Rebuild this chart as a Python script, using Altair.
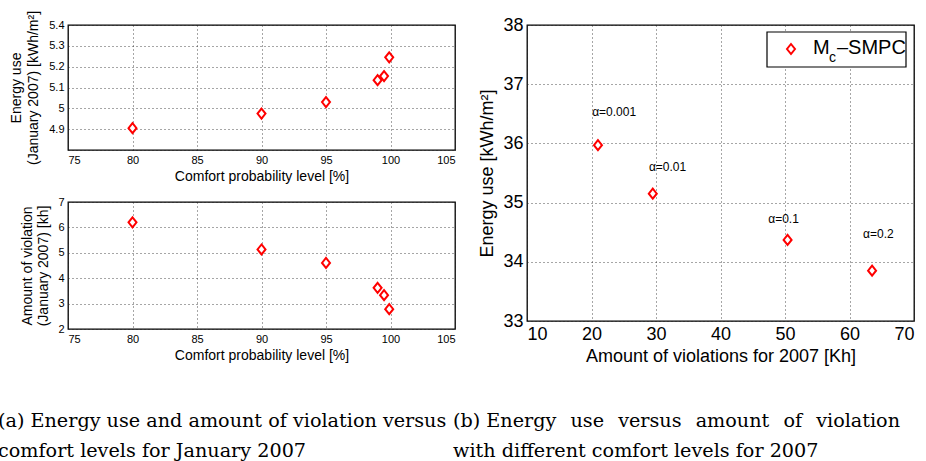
import altair as alt
import pandas as pd

# ---------------- data ----------------
comfort_levels = [80, 90, 95, 99, 99.5, 99.9]
energy_january = [4.905, 4.975, 5.03, 5.135, 5.155, 5.245]
violation_january = [6.2, 5.13, 4.6, 3.62, 3.33, 2.78]

violations_2007 = [21.0, 29.5, 50.4, 63.5]
energy_2007 = [35.97, 35.15, 34.37, 33.85]
alpha_labels = ["α=0.001", "α=0.01", "α=0.1", "α=0.2"]
alpha_label_x = [20.1, 28.9, 47.4, 62.1]
alpha_label_y = [36.53, 35.6, 34.72, 34.47]

x_ticks_left = [75, 80, 85, 90, 95, 100, 105]
y_ticks_energy = [4.8, 4.9, 5.0, 5.1, 5.2, 5.3, 5.4]
y_ticks_violation = [2, 3, 4, 5, 6, 7]
x_ticks_right = [10, 20, 30, 40, 50, 60, 70]
y_ticks_right = [33, 34, 35, 36, 37, 38]

legend_parts = ["M", "c", "–SMPC"]

GAP = "\u00a0\u00a0\u200a"
caption_a = ["(a) Energy use and amount of violation versus",
             "comfort levels for January 2007"]
caption_b = [f"(b) Energy{GAP}use{GAP}versus{GAP}amount{GAP}of{GAP}violation",
             "with different comfort levels for 2007"]

df_jan = pd.DataFrame({"comfort": comfort_levels,
                       "energy": energy_january,
                       "violation": violation_january})
df_year = pd.DataFrame({"viol": violations_2007, "energy": energy_2007,
                        "label": alpha_labels, "lx": alpha_label_x, "ly": alpha_label_y})
df_legend = pd.DataFrame({"part": legend_parts})

DIAMOND = "M0,-1L0.8,0L0,1L-0.8,0Z"
SANS = "Liberation Sans"
SERIF = "DejaVu Serif"
CAP_SIZE = 19.2


def make_axis(values, title, label_size, title_size, title_pad, label_expr=None, fmt="~g"):
    kw = dict(values=values, title=title, grid=True, gridDash=[1, 3],
              gridColor="#222", gridWidth=1, gridOpacity=0.8,
              domain=False, ticks=False, labelPadding=4,
              labelFont=SANS, labelFontSize=label_size, labelColor="black",
              titleFont=SANS, titleFontSize=title_size, titleFontWeight="normal",
              titleColor="black", titlePadding=title_pad, titleLineHeight=title_size * 1.2,
              format=fmt, labelOverlap=False)
    if label_expr:
        kw["labelExpr"] = label_expr
    return alt.Axis(**kw)


def diamonds(size=100):
    return dict(shape=DIAMOND, filled=True, fill="white", stroke="red",
                strokeWidth=2, size=size, opacity=1)


def top_spacer():
    # invisible rule so that both columns reserve the same room above the plot area
    return alt.Chart(df_legend.head(1)).mark_rule(strokeOpacity=0, opacity=0).encode(
        x=alt.value(0), y=alt.value(-24), y2=alt.value(0))


def caption(text, dx, offset):
    return alt.TitleParams(text=text, orient="bottom", anchor="start", frame="group",
                           dx=dx, offset=offset, font=SERIF, fontSize=CAP_SIZE,
                           fontWeight="normal", lineHeight=30, color="black")


top_pts = alt.Chart(df_jan).mark_point(**diamonds()).encode(
    x=alt.X("comfort:Q", scale=alt.Scale(domain=[75, 105], nice=False, zero=False),
            axis=make_axis(x_ticks_left, "Comfort probability level [%]", 11, 14, 4)),
    y=alt.Y("energy:Q", scale=alt.Scale(domain=[4.8, 5.4], nice=False, zero=False),
            axis=make_axis(y_ticks_energy, ["Energy use", "(January 2007) [kWh/m²]"], 11, 14, 8,
                           label_expr="datum.value < 4.85 ? '' : datum.label")),
)
top = alt.layer(top_pts, top_spacer()).properties(width=387, height=125)

bottom = alt.Chart(df_jan).mark_point(**diamonds()).encode(
    x=alt.X("comfort:Q", scale=alt.Scale(domain=[75, 105], nice=False, zero=False),
            axis=make_axis(x_ticks_left, "Comfort probability level [%]", 11, 14, 4)),
    y=alt.Y("violation:Q", scale=alt.Scale(domain=[2, 7], nice=False, zero=False),
            axis=make_axis(y_ticks_violation, ["Amount of violation", "(January 2007) [kh]"], 11, 14, 7)),
).properties(width=387, height=127, title=caption(caption_a, -70, 50))

left = alt.vconcat(top, bottom, spacing=52, bounds="flush")

right_points = alt.Chart(df_year).mark_point(**diamonds()).encode(
    x=alt.X("viol:Q", scale=alt.Scale(domain=[10, 70], nice=False, zero=False),
            axis=make_axis(x_ticks_right, "Amount of violations for 2007 [Kh]", 18, 18, 4)),
    y=alt.Y("energy:Q", scale=alt.Scale(domain=[33, 38], nice=False, zero=False),
            axis=make_axis(y_ticks_right, "Energy use [kWh/m²]", 18, 18, 6)),
)

right_labels = alt.Chart(df_year).mark_text(
    align="left", baseline="middle", font=SANS, fontSize=12, color="black"
).encode(x="lx:Q", y="ly:Q", text="label:N")

legend_box = alt.Chart(df_legend.head(1)).mark_rect(
    fill="white", stroke="black", strokeWidth=1.2
).encode(x=alt.value(240), x2=alt.value(379), y=alt.value(7), y2=alt.value(42))

legend_mark = alt.Chart(df_legend.head(1)).mark_point(**diamonds()).encode(
    x=alt.value(264), y=alt.value(24))

legend_m = alt.Chart(df_legend.iloc[[0]]).mark_text(
    align="left", baseline="alphabetic", font=SANS, fontSize=20, color="black"
).encode(x=alt.value(286), y=alt.value(29), text="part:N")

legend_c = alt.Chart(df_legend.iloc[[1]]).mark_text(
    align="left", baseline="alphabetic", font=SANS, fontSize=14, color="black"
).encode(x=alt.value(302), y=alt.value(37), text="part:N")

legend_rest = alt.Chart(df_legend.iloc[[2]]).mark_text(
    align="left", baseline="alphabetic", font=SANS, fontSize=20, color="black"
).encode(x=alt.value(310), y=alt.value(29), text="part:N")

right = alt.layer(right_points, right_labels, legend_box, legend_mark,
                  legend_m, legend_c, legend_rest, top_spacer()).properties(
    width=387, height=296, title=caption(caption_b, -74, 47))

chart = alt.hconcat(left, right, spacing=-4).properties(
    padding={"left": -3, "top": 0, "right": 0, "bottom": 0},
    background="white",
).configure_view(stroke="black", strokeWidth=1.3)

chart.save("out.html", embed_options={"renderer": "svg", "actions": False})
